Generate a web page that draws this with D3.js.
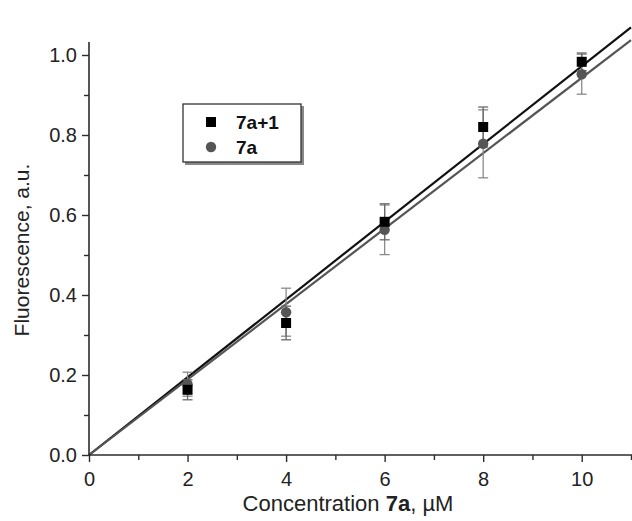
<!DOCTYPE html>
<html>
<head>
<meta charset="utf-8">
<script src="https://cdn.jsdelivr.net/npm/d3@7"></script>
<style>
  body { margin: 0; background: #fff; }
  svg text { font-family: 'Liberation Sans', Arial, sans-serif; }
</style>
</head>
<body>
<svg id="chart" width="632" height="521"></svg>
<script>
// concentrations (uM)
var conc = [2, 4, 6, 8, 10]

// 7a+1 (black squares)
var sqVals = [0.163, 0.33, 0.583, 0.82, 0.983]
var sqErr = [0.025, 0.042, 0.045, 0.05, 0.022]

// 7a (grey circles)
var ciVals = [0.177, 0.357, 0.563, 0.778, 0.952]
var ciErr = [0.03, 0.06, 0.062, 0.085, 0.05]

// fitted slopes of lines through origin
var fitSlopes = [0.0972, 0.0943]

var xTicks = [0, 2, 4, 6, 8, 10]
var yTicks = [0.0, 0.2, 0.4, 0.6, 0.8, 1.0]

var svg = d3.select('#chart')

var x = d3.scaleLinear().domain([0, 11]).range([89, 631])
var y = d3.scaleLinear().domain([0, 1.0325]).range([455, 42])

var axisColor = '#2b2b2b'

// fit lines
var lineColors = ['#111', '#555']
fitSlopes.forEach(function (k, i) {
  svg.append('line')
    .attr('x1', x(0)).attr('y1', y(0))
    .attr('x2', x(11)).attr('y2', y(k * 11))
    .attr('stroke', lineColors[i])
    .attr('stroke-width', 2.2)
})

// error bars
function errBars(vals, errs, color) {
  var g = svg.append('g').attr('stroke', color).attr('stroke-width', 1.3)
  conc.forEach(function (c, i) {
    var cx = x(c)
    var lo = y(vals[i] - errs[i]), hi = y(vals[i] + errs[i])
    g.append('line').attr('x1', cx).attr('x2', cx).attr('y1', lo).attr('y2', hi)
    g.append('line').attr('x1', cx - 5).attr('x2', cx + 5).attr('y1', lo).attr('y2', lo)
    g.append('line').attr('x1', cx - 5).attr('x2', cx + 5).attr('y1', hi).attr('y2', hi)
  })
}
errBars(ciVals, ciErr, '#8a8a8a')
errBars(sqVals, sqErr, '#6a6a6a')

// points
svg.selectAll('.ci').data(conc).enter().append('circle')
  .attr('class', 'ci')
  .attr('cx', function (d) { return x(d) })
  .attr('cy', function (d, i) { return y(ciVals[i]) })
  .attr('r', 5.2)
  .attr('fill', '#555')

svg.selectAll('.sq').data(conc).enter().append('rect')
  .attr('class', 'sq')
  .attr('x', function (d) { return x(d) - 5 })
  .attr('y', function (d, i) { return y(sqVals[i]) - 5 })
  .attr('width', 10)
  .attr('height', 10)
  .attr('fill', '#000')

// axes
var xAxis = svg.append('g')
  .attr('transform', 'translate(0,' + y(0) + ')')
  .call(d3.axisBottom(x).tickValues(d3.range(0, 12, 1)).tickSize(6)
    .tickFormat(function (d) { return xTicks.indexOf(d) >= 0 ? d : '' }))
xAxis.selectAll('.tick line')
  .attr('y2', function (d) { return d % 2 === 0 ? 7 : 5 })
xAxis.selectAll('.tick text').attr('font-size', 20).attr('y', 13).attr('dy', '0.9em').attr('fill', '#222')

var yAxis = svg.append('g')
  .attr('transform', 'translate(' + x(0) + ',0)')
  .call(d3.axisLeft(y).tickValues(d3.range(0, 11).map(function (d) { return d / 10 }))
    .tickSize(7)
    .tickFormat(function (d, i) { return i % 2 === 0 ? d3.format('.1f')(d) : '' }))
yAxis.selectAll('.tick line')
  .attr('x2', function (d, i) { return i % 2 === 0 ? -7 : -5 })
yAxis.selectAll('.tick text').attr('font-size', 20).attr('x', -12).attr('fill', '#222')

;[xAxis, yAxis].forEach(function (a) {
  a.select('.domain').attr('stroke', axisColor).attr('stroke-width', 1.6)
    .attr('d', a === xAxis ? 'M' + x(0) + ',0H632' : 'M0,' + y(0) + 'V' + y(1.0325))
  a.selectAll('.tick line').attr('stroke', axisColor).attr('stroke-width', 1.4)
})

// axis titles
var xt = svg.append('text')
  .attr('x', 348).attr('y', 511)
  .attr('text-anchor', 'middle')
  .attr('font-size', 22)
  .attr('fill', '#222')
xt.append('tspan').text('Concentration ')
xt.append('tspan').attr('font-weight', 'bold').text('7a')
xt.append('tspan').text(', \u00b5M')

svg.append('text')
  .attr('transform', 'translate(29,250) rotate(-90)')
  .attr('text-anchor', 'middle')
  .attr('font-size', 21)
  .attr('fill', '#222')
  .text('Fluorescence, a.u.')

// legend
var lg = svg.append('g')
lg.append('rect')
  .attr('x', 185).attr('y', 106).attr('width', 119).attr('height', 59)
  .attr('fill', '#888')
lg.append('rect')
  .attr('x', 183).attr('y', 104).attr('width', 118).attr('height', 58)
  .attr('fill', '#fff').attr('stroke', '#333').attr('stroke-width', 1.3)
lg.append('rect').attr('x', 206).attr('y', 117).attr('width', 10).attr('height', 10).attr('fill', '#000')
lg.append('circle').attr('cx', 211).attr('cy', 147).attr('r', 5.2).attr('fill', '#555')
var labels = ['7a+1', '7a']
labels.forEach(function (t, i) {
  lg.append('text')
    .attr('x', 236).attr('y', 129 + i * 25)
    .attr('font-size', 19).attr('font-weight', 'bold')
    .attr('fill', '#111')
    .text(t)
})
</script>
</body>
</html>
